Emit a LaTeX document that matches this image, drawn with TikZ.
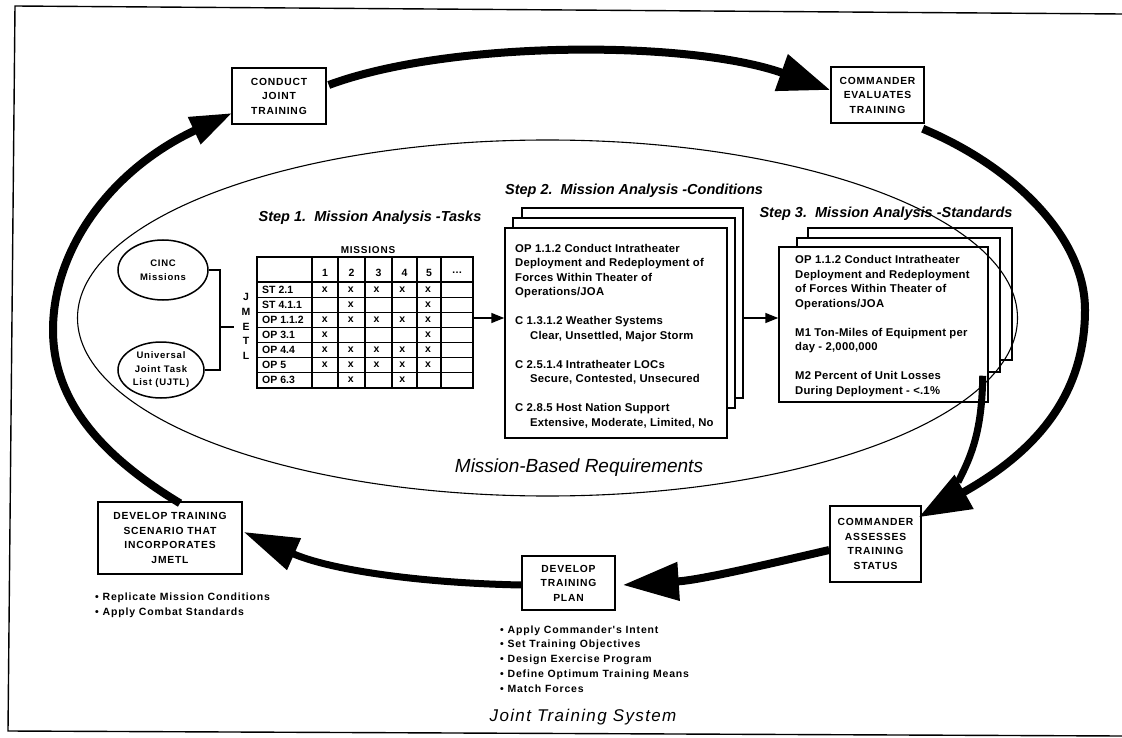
\documentclass[tikz,border=0pt]{standalone}
\usepackage{fontspec}
\setmainfont{Liberation Sans}
\newfontfamily\spaced{Liberation Sans}[LetterSpace=8]
\newfontfamily\pagefont{Liberation Sans}[LetterSpace=2]
\usetikzlibrary{arrows.meta,calc,shapes.geometric}
\begin{document}
\begin{tikzpicture}[x=1pt,y=-1pt,
  box/.style={draw, line width=1.5pt, fill=white, inner sep=0pt, align=center, font=\spaced\bfseries\fontsize{10.3}{14.5}\selectfont},
  sheet/.style={draw, line width=1.5pt, fill=white, inner sep=0pt},
  ptext/.style={anchor=base west, inner sep=0pt, align=left, font=\pagefont\bfseries\fontsize{11.3}{14.5}\selectfont},
  steptitle/.style={anchor=base, inner sep=0pt, font=\bfseries\itshape\fontsize{14.5}{17}\selectfont},
  tabtxt/.style={inner sep=0pt, font=\bfseries\fontsize{10.5}{12}\selectfont},
  bul/.style={anchor=base west, inner sep=0pt, align=left, font=\spaced\bfseries\fontsize{10.5}{14.7}\selectfont},
  big/.style={line width=8pt},
  thinarrow/.style={line width=1.5pt, -{Triangle[length=13pt,width=10pt]}},
  oval/.style={draw, ellipse, line width=1.5pt, inner sep=0pt, align=center, font=\spaced\bfseries\fontsize{9.5}{13.5}\selectfont}
]
\useasboundingbox (0,0) rectangle (1122,738);
\fill[white] (0,0) rectangle (1122,738);
% frame
\draw[line width=1.4pt] (1122,14) -- (15,6) -- (8,731) -- (1122,736);

% outer process boxes
\node[box, minimum width=94, minimum height=56] (conduct) at (279,96) {CONDUCT\\JOINT\\TRAINING};
\node[box, minimum width=93, minimum height=56] (evals) at (877.5,95) {COMMANDER\\EVALUATES\\TRAINING};
\node[box, minimum width=144, minimum height=72] (scen) at (170,538) {DEVELOP TRAINING\\SCENARIO THAT\\INCORPORATES\\JMETL};
\node[box, minimum width=93, minimum height=54] (plan) at (568.5,583) {DEVELOP\\TRAINING\\PLAN};
\node[box, minimum width=91, minimum height=76] (assess) at (875.5,544) {COMMANDER\\ASSESSES\\TRAINING\\STATUS};

% bullets (anchored at the baseline of the last line)
\node[bul] (sbul) at (95,615.5) {• Replicate Mission Conditions\\• Apply Combat Standards};
\node[bul] (pbul) at (500,692) {• Apply Commander's Intent\\• Set Training Objectives\\• Design Exercise Program\\• Define Optimum Training Means\\• Match Forces};
\node[font=\spaced\itshape\fontsize{17}{20}\selectfont, inner sep=0pt] (jts) at (583,717) {Joint Training System};

% step 1
\node[steptitle] (t1) at (370,222) {Step 1.\ \ Mission Analysis -Tasks};
\node[oval, minimum width=90, minimum height=60] (cinc) at (163,270) {CINC\\Missions};
\node[oval, minimum width=86, minimum height=56] (ujtl) at (161,370) {Universal\\Joint Task\\List (UJTL)};
\coordinate (brk) at (220,327);
\coordinate (stub) at (234,327);
\draw[line width=1.2pt] (cinc.east) -| (brk) |- (ujtl.east);
\draw[line width=1.2pt] (brk) -- (stub);
\foreach \l/\y [count=\i] in {J/297,M/312,E/327,T/341,L/356}
  \node[tabtxt] (jm\i) at (246,\y) {\l};
\node[tabtxt, font=\spaced\bfseries\fontsize{10}{12}\selectfont] (miss) at (368,250) {MISSIONS};
\node[draw, line width=1.8pt, minimum width=216, minimum height=131, inner sep=0pt] (tbl) at (365,322.5) {};
\foreach \x in {312,338,365,392,417,441}
  \draw[line width=1.2pt] (\x,257) -- (\x,388);
\foreach \k in {0,1,2,3,4,5,6}
  \draw[line width=1.2pt] (257,{282+15.1*\k}) -- (473,{282+15.1*\k});
\foreach \n/\x [count=\i] in {1/325,2/351.5,3/378.5,4/404.5,5/429}
  \node[tabtxt] (h\i) at (\x,273) {\n};
\node[tabtxt] (h6) at (457,273) {\textellipsis};
\foreach \t [count=\i] in {ST 2.1,ST 4.1.1,OP 1.1.2,OP 3.1,OP 4.4,OP 5,OP 6.3}
  \node[tabtxt, anchor=west] (r\i) at (262,{282+15.1*(\i-0.5)}) {\t};
\foreach \r/\c [count=\i] in {1/1,1/2,1/3,1/4,1/5,2/2,2/5,3/1,3/2,3/3,3/4,3/5,4/1,4/5,5/1,5/2,5/3,5/4,5/5,6/1,6/2,6/3,6/4,6/5,7/2,7/4}
  \node[tabtxt] (x\i) at ({312+25.8*(\c-0.5)},{282+15.1*(\r-0.5)}) {x};

% step 2
\node[steptitle] (t2) at (634,195) {Step 2.\ \ Mission Analysis -Conditions};
\node[sheet, minimum width=221, minimum height=190] (back2) at (632.5,303) {};
\node[sheet, minimum width=222, minimum height=190] (mid2) at (624,313) {};
\node[sheet, minimum width=222, minimum height=210] (front2) at (616,333) {};
\node[ptext] (s2txt) at (515,426) {OP 1.1.2 Conduct Intratheater\\Deployment and Redeployment of\\Forces Within Theater of\\Operations/JOA\\[14.5pt]C 1.3.1.2 Weather Systems\\\hspace*{15pt}Clear, Unsettled, Major Storm\\[14.5pt]C 2.5.1.4 Intratheater LOCs\\\hspace*{15pt}Secure, Contested, Unsecured\\[14.5pt]C 2.8.5 Host Nation Support\\\hspace*{15pt}Extensive, Moderate, Limited, No};

% step 3
\node[steptitle] (t3) at (886,218) {Step 3.\ \ Mission Analysis -Standards};
\node[sheet, minimum width=204, minimum height=132] (back3) at (910,294) {};
\node[sheet, minimum width=203, minimum height=134] (mid3) at (898.5,305) {};
\node[sheet, minimum width=209, minimum height=155] (front3) at (883.5,324.5) {};
\node[ptext] (s3txt) at (795,394) {OP 1.1.2 Conduct Intratheater\\Deployment and Redeployment\\of Forces Within Theater of\\Operations/JOA\\[14.5pt]M1 Ton-Miles of Equipment per\\day - 2,000,000\\[14.5pt]M2 Percent of Unit Losses\\During Deployment - <.1\%};

% small arrows
\draw[thinarrow] (tbl.east |- 0,318) -- (front2.west |- 0,318);
\draw[thinarrow] (back2.east |- 0,318) -- (front3.west |- 0,318);

% mission-based requirements ellipse
\draw[line width=1.1pt] (547.5,318) ellipse [x radius=470pt, y radius=178pt];
\node[font=\itshape\fontsize{19}{22}\selectfont, inner sep=0pt] (mbr) at (579,468) {Mission-Based Requirements};

% big cycle arrows
\draw[big, -{Triangle[length=42pt,width=28pt]}] ($(scen.north)+(10,2)$) .. controls (100,455) and (53,400) .. (53,330) .. controls (53,250) and (110,170) .. ($(conduct.west)+(1,17)$);
\draw[big, -{Triangle[length=52pt,width=37pt]}] ($(conduct.east)+(2,-11)$) .. controls (450,40) and (690,40) .. ($(evals.west)+(0,-5)$);
\draw[big, line width=7pt] ($(front3.south east)+(-6,-27)$) .. controls (982,430) and (972,455) .. (958,482);
\draw[big, -{Triangle[length=52pt,width=37pt]}] ($(evals.south east)+(-2,5)$) .. controls (1010,165) and (1085,235) .. (1085,310) .. controls (1085,400) and (1030,455) .. ($(assess.north east)+(-3,12)$);
\draw[big, -{Triangle[length=56pt,width=37pt]}] ($(assess.west)+(0,6)$) .. controls (760,566) and (700,580) .. ($(plan.east)+(7,2)$);
\draw[big, line width=7pt, -{Triangle[length=55pt,width=33pt]}] ($(plan.west)+(0,2)$) .. controls (420,583) and (330,570) .. ($(scen.east)+(1,-6)$);
\end{tikzpicture}
\end{document}
